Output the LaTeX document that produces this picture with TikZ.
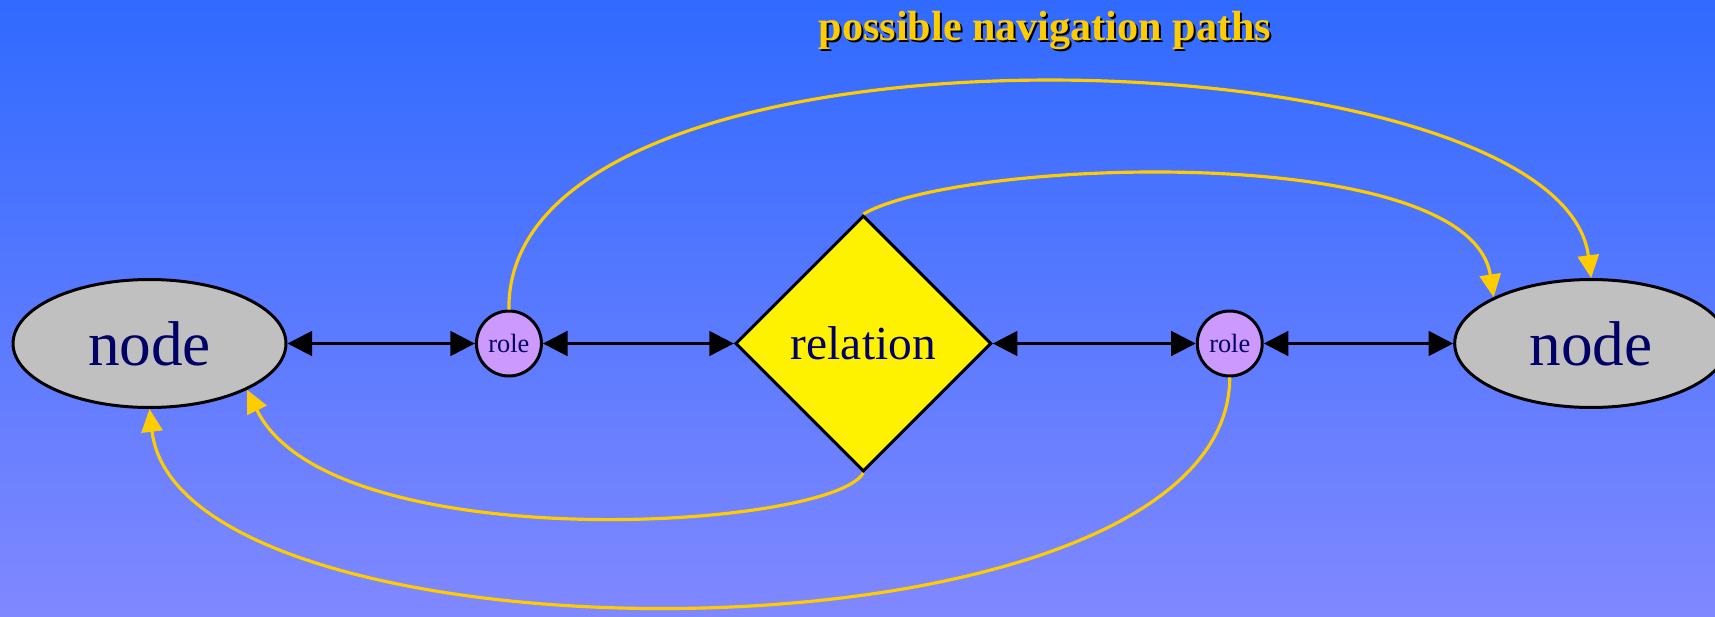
\documentclass[tikz,border=0pt]{standalone}
\usepackage{fontspec}
\setmainfont{Liberation Serif}
\usepackage{xcolor}
\usetikzlibrary{shapes.geometric,arrows.meta,positioning}
\definecolor{bgtop}{RGB}{48,106,255}
\definecolor{bgbottom}{RGB}{128,136,255}
\definecolor{navtext}{RGB}{0,0,102}
\definecolor{pathyellow}{RGB}{255,204,0}
\definecolor{rolefill}{RGB}{204,153,255}
\definecolor{entityfill}{RGB}{192,192,192}

\begin{document}
\begin{tikzpicture}[x=0.02cm, y=-0.02cm, every node/.style={text=navtext}]
\tikzstyle{entity} = [ellipse, minimum width=5.46cm, minimum height=2.56cm, inner sep=0pt, fill=entityfill, draw=black, line width=1.7pt, font=\fontsize{36}{40}\selectfont]
\tikzstyle{role} = [circle, minimum size=1.3cm, inner sep=0pt, fill=rolefill, draw=black, line width=1.7pt, font=\fontsize{15}{17}\selectfont]
\tikzstyle{relation} = [diamond, minimum width=5.12cm, minimum height=5.12cm, inner sep=0pt, fill=yellow, draw=black, line width=1.7pt, font=\fontsize{27}{30}\selectfont]
\tikzstyle{link} = [line width=1.7pt, {Triangle[length=14pt,width=14pt]}-{Triangle[length=14pt,width=14pt]}]
\tikzstyle{navpath} = [line width=1.8pt, draw=pathyellow, -{Triangle[length=13pt,width=12pt]}]

% background
\useasboundingbox (0,0) rectangle (1715,616);
\shade[top color=bgtop, bottom color=bgbottom] (0,0) rectangle (1715,616);

\node (titleshadow) at (1047,33) [text=black, font=\bfseries\fontsize{24}{28}\selectfont] {possible navigation paths};
\node (title) at (1045,31) [text=pathyellow, font=\bfseries\fontsize{24}{28}\selectfont] {possible navigation paths};

\node (nodeL) [entity] at (149.5,343.5) {node};
\node (roleL) [role, right=3.75cm of nodeL] {role};
\node (rel) [relation, right=3.82cm of roleL] {relation};
\node (roleR) [role, right=4.06cm of rel] {role};
\node (nodeR) [entity, right=3.79cm of roleR] {node};

\draw[link] (nodeL) -- (roleL);
\draw[link] (roleL) -- (rel);
\draw[link] (rel) -- (roleR);
\draw[link] (roleR) -- (nodeR);

% navigation paths
\draw[navpath] (roleL.north) .. controls (505,-5) and (1560,30) .. (nodeR.north);
\draw[navpath] (rel.north) .. controls (960,158) and (1470,140) .. (nodeR.north west);
\draw[navpath] (rel.south) .. controls (830,530) and (330,560) .. (nodeL.south east);
\draw[navpath] (roleR.south) .. controls (1229,676) and (180,676) .. (nodeL.south);
\end{tikzpicture}
\end{document}
